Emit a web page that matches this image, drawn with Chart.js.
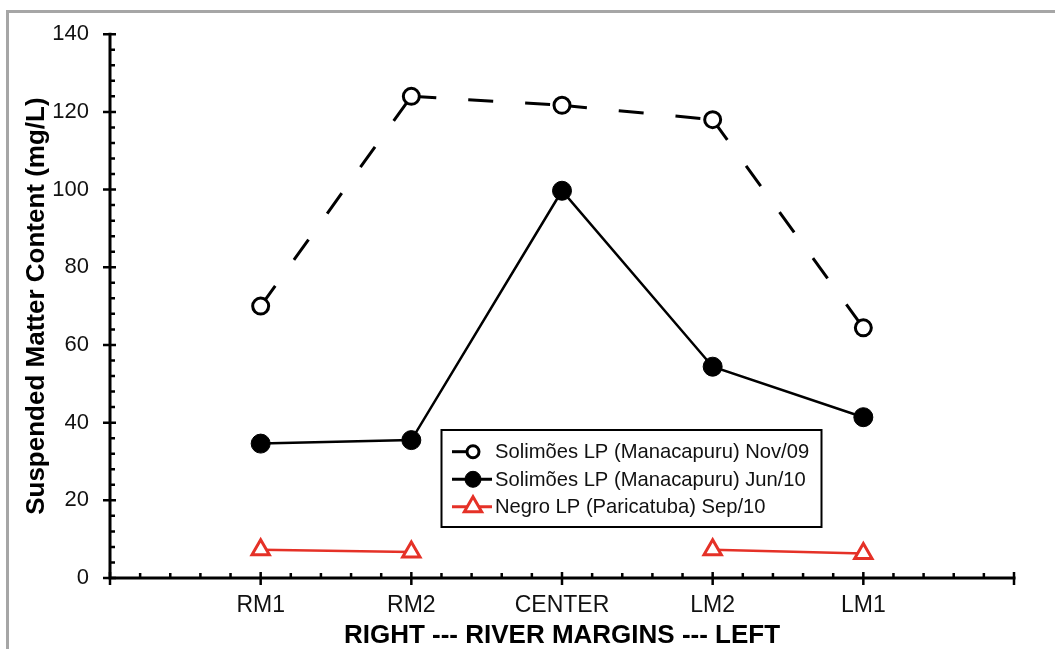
<!DOCTYPE html>
<html>
<head>
<meta charset="utf-8">
<script src="https://cdn.jsdelivr.net/npm/chart.js@4/dist/chart.umd.min.js"></script>
<style>
  html, body { margin: 0; padding: 0; background: #fff; }
  #wrap { width: 1055px; height: 649px; }
</style>
</head>
<body>
<div id="wrap"><canvas id="chart" width="1055" height="649"></canvas></div>
<script>
// Sampling sites across the river section, right bank to left bank
const sites = ['RM1', 'RM2', 'CENTER', 'LM2', 'LM1'];
const sitePositions = [1, 2, 3, 4, 5];

// Suspended matter content (mg/L)
const solimoesNov09 = [70, 124, 121.7, 118, 64.4];
const solimoesJun10 = [34.6, 35.5, 99.7, 54.4, 41.4];
const negroSep10 = [7.3, 6.7, null, 7.3, 6.3];

const seriesNames = [
  'Solimões LP (Manacapuru) Nov/09',
  'Solimões LP (Manacapuru) Jun/10',
  'Negro LP (Paricatuba) Sep/10'
];

const xRange = [0, 6];
const yRange = [0, 140];
const yStep = 20;

const FONT = "'Liberation Sans', Arial, Helvetica, sans-serif";
const RED = '#e53127';

Chart.defaults.font.family = FONT;

const toPoints = vals => sitePositions.map((x, i) => ({ x, y: vals[i] }));

// white page with the grey frame
const framePlugin = {
  id: 'frame',
  beforeDraw(chart) {
    const ctx = chart.ctx;
    ctx.save();
    ctx.fillStyle = '#fff';
    ctx.fillRect(0, 0, chart.width, chart.height);
    ctx.strokeStyle = '#a6a6a6';
    ctx.lineWidth = 3;
    ctx.strokeRect(7.5, 11.5, chart.width + 20, chart.height + 20);
    ctx.restore();
  }
};

// axis lines with major/minor tick marks
const axesPlugin = {
  id: 'axes',
  beforeDatasetsDraw(chart) {
    const { ctx, scales: { x, y } } = chart;
    const xa = x.getPixelForValue(xRange[0]);
    const xb = x.getPixelForValue(xRange[1]);
    const ya = y.getPixelForValue(yRange[0]);
    const yb = y.getPixelForValue(yRange[1]);
    ctx.save();
    ctx.strokeStyle = '#000';
    ctx.lineCap = 'butt';
    ctx.lineWidth = 3;
    ctx.beginPath();
    ctx.moveTo(xa, yb - 1.5);
    ctx.lineTo(xa, ya);
    ctx.lineTo(xb + 1.5, ya);
    ctx.stroke();

    ctx.lineWidth = 2.5;
    ctx.beginPath();
    // x: major every 1, minor every 0.2
    for (let k = 0; k <= (xRange[1] - xRange[0]) * 5; k++) {
      const px = x.getPixelForValue(xRange[0] + k / 5);
      if (k % 5 === 0) { ctx.moveTo(px, ya - 6); ctx.lineTo(px, ya + 7); }
      else { ctx.moveTo(px, ya - 5); ctx.lineTo(px, ya); }
    }
    // y: major every 20, minor every 4
    for (let v = yRange[0]; v <= yRange[1]; v += 4) {
      const py = y.getPixelForValue(v);
      if (v % yStep === 0) { ctx.moveTo(xa - 7, py); ctx.lineTo(xa + 6, py); }
      else { ctx.moveTo(xa, py); ctx.lineTo(xa + 5, py); }
    }
    ctx.stroke();
    ctx.restore();
  }
};

function drawMarker(ctx, style, x, y, r, fill, stroke, lw) {
  ctx.save();
  ctx.fillStyle = fill;
  ctx.strokeStyle = stroke;
  ctx.lineWidth = lw;
  ctx.setLineDash([]);
  ctx.beginPath();
  if (style === 'triangle') {
    ctx.moveTo(x, y - r);
    ctx.lineTo(x + r * Math.sin(Math.PI / 3), y + r / 2);
    ctx.lineTo(x - r * Math.sin(Math.PI / 3), y + r / 2);
    ctx.closePath();
  } else {
    ctx.arc(x, y, r, 0, Math.PI * 2);
  }
  ctx.fill();
  ctx.stroke();
  ctx.restore();
}

// boxed legend inside the plot area
const legendPlugin = {
  id: 'boxLegend',
  afterDatasetsDraw(chart) {
    const ctx = chart.ctx;
    const box = { left: 441.5, top: 430, width: 380, height: 97 };
    const rows = [451.7, 479.3, 506.7];
    const markers = [
      { style: 'circle', r: 6, fill: '#fff', lw: 3 },
      { style: 'circle', r: 8, fill: '#000', lw: 1 },
      { style: 'triangle', r: 10, fill: '#fff', lw: 3 }
    ];
    ctx.save();
    ctx.fillStyle = '#fff';
    ctx.fillRect(box.left, box.top, box.width, box.height);
    ctx.strokeStyle = '#000';
    ctx.lineWidth = 2;
    ctx.strokeRect(box.left, box.top, box.width, box.height);
    chart.data.datasets.forEach((ds, i) => {
      const y = rows[i];
      ctx.save();
      ctx.strokeStyle = ds.borderColor;
      ctx.lineWidth = 3;
      ctx.beginPath();
      ctx.moveTo(452, y);
      ctx.lineTo(i === 0 ? 470 : 492, y);
      ctx.stroke();
      ctx.restore();
      const m = markers[i];
      drawMarker(ctx, m.style, 473, y, m.r, m.fill, ds.borderColor, m.lw);
      ctx.fillStyle = '#111';
      ctx.font = `20.2px ${FONT}`;
      ctx.textBaseline = 'middle';
      ctx.textAlign = 'left';
      ctx.fillText(ds.label, 495, y + 1);
    });
    ctx.restore();
  }
};

new Chart(document.getElementById('chart'), {
  type: 'line',
  data: {
    datasets: [
      {
        label: seriesNames[0],
        data: toPoints(solimoesNov09),
        borderColor: '#000',
        borderWidth: 3,
        borderDash: [25, 32],
        // restart the dash pattern at every station
        segment: { borderDashOffset: c => c.p0DataIndex * 0.0001 },
        pointStyle: 'circle',
        pointRadius: 8,
        pointBorderWidth: 3,
        pointBackgroundColor: '#fff',
        pointBorderColor: '#000',
        tension: 0
      },
      {
        label: seriesNames[1],
        data: toPoints(solimoesJun10),
        borderColor: '#000',
        borderWidth: 2.5,
        pointStyle: 'circle',
        pointRadius: 9.5,
        pointBorderWidth: 1,
        pointBackgroundColor: '#000',
        pointBorderColor: '#000',
        tension: 0
      },
      {
        label: seriesNames[2],
        data: toPoints(negroSep10),
        borderColor: RED,
        borderWidth: 2.5,
        pointStyle: 'triangle',
        pointRadius: 10,
        pointBorderWidth: 3,
        pointBackgroundColor: '#fff',
        pointBorderColor: RED,
        spanGaps: false,
        tension: 0
      }
    ]
  },
  options: {
    responsive: false,
    devicePixelRatio: 1,
    animation: false,
    layout: { padding: { left: 0, top: 30, right: 41, bottom: 0 } },
    plugins: {
      legend: { display: false },
      tooltip: { enabled: false }
    },
    scales: {
      x: {
        type: 'linear',
        min: xRange[0],
        max: xRange[1],
        grid: { display: false, drawTicks: false },
        border: { display: false },
        ticks: {
          stepSize: 1,
          autoSkip: false,
          maxRotation: 0,
          padding: 14,
          color: '#111',
          font: { size: 23 },
          callback: v => {
            const i = sitePositions.indexOf(v);
            return i >= 0 ? sites[i] : '';
          }
        },
        title: {
          display: true,
          text: 'RIGHT --- RIVER MARGINS --- LEFT',
          color: '#000',
          font: { size: 26, weight: 'bold', lineHeight: 1 },
          padding: { top: 0, bottom: 0 }
        },
        afterFit: s => { s.height = 71; }
      },
      y: {
        type: 'linear',
        min: yRange[0],
        max: yRange[1],
        grid: { display: false, drawTicks: false },
        border: { display: false },
        ticks: {
          stepSize: yStep,
          padding: 21,
          color: '#111',
          font: { size: 22 }
        },
        title: {
          display: true,
          text: 'Suspended Matter Content (mg/L)',
          color: '#000',
          font: { size: 26, weight: 'bold', lineHeight: 1 },
          padding: { top: 24, bottom: 0 }
        },
        afterFit: s => { s.width = 110; }
      }
    }
  },
  plugins: [framePlugin, axesPlugin, legendPlugin]
});
</script>
</body>
</html>
